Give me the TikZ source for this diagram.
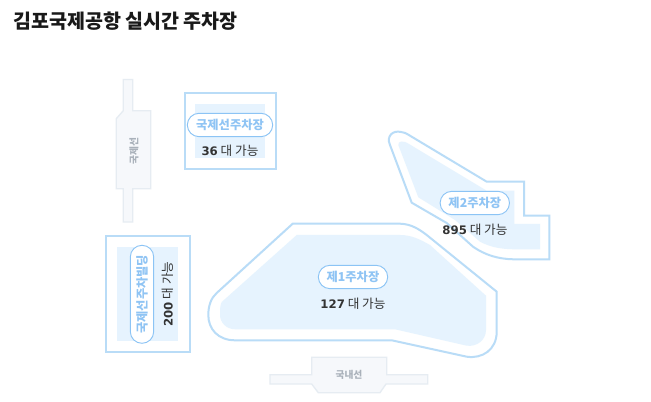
\documentclass[tikz,border=0pt]{standalone}
\usepackage{fontspec}
\setmainfont{Noto Sans CJK KR}
\newfontfamily\numfont{DejaVu Sans}[BoldFont={DejaVu Sans Bold}]
\definecolor{zoneline}{HTML}{B9DCF7}
\definecolor{zonefill}{HTML}{E6F3FE}
\definecolor{pillline}{HTML}{8CC4F5}
\definecolor{pilltext}{HTML}{8FC4F4}
\definecolor{termfill}{HTML}{F6F8FB}
\definecolor{termline}{HTML}{E6ECF2}
\definecolor{termtext}{HTML}{A9B1BA}
\definecolor{inktext}{HTML}{333333}
\newcommand{\countlabel}[1]{{\numfont\bfseries\fontsize{8.8pt}{10pt}\selectfont #1}~대~가능}
\tikzset{
  zoneouter/.style={draw=zoneline,line width=1.5pt,fill=white,line join=miter},
  zoneinner/.style={fill=zonefill},
  terminal/.style={draw=termline,line width=1pt,fill=termfill},
  termlabel/.style={text=termtext,font=\fontsize{7.3pt}{9pt}\selectfont\bfseries,inner sep=0pt},
  pill/.style={draw=pillline,line width=.7pt,fill=white,rounded corners=8.7pt,inner sep=0pt,
    text=pilltext,font=\fontsize{9.2pt}{11pt}\selectfont\bfseries,minimum height=17.5pt},
  countnode/.style={text=inktext,font=\fontsize{9.5pt}{11pt}\selectfont,inner sep=0pt},
}
\begin{document}
\begin{tikzpicture}[x=0.75pt,y=-0.75pt]
\useasboundingbox (0,0) rectangle (651,402);
\fill[white] (0,0) rectangle (651,402);
\node[anchor=west,inner sep=0pt,text=black!90,font=\fontsize{14.65pt}{16pt}\selectfont\bfseries] (title) at (13,21) {김포국제공항 실시간 주차장};
% international terminal
\draw[terminal] (123.3,79.5) -- (132.7,79.5) -- (132.7,110.7) -- (150.7,110.7) -- (150.7,188.7) -- (132.7,188.7) -- (132.7,222) -- (123.3,222) -- (123.3,188.7) -- (116.3,188.7) -- (116.3,118.7) -- (123.3,110.7) -- cycle;
\node[termlabel,rotate=90] (intl) at (134,151) {국제선};
% domestic terminal
\draw[terminal] (311.7,357.3) -- (386.7,357.3) -- (386.7,374.7) -- (427.7,374.7) -- (427.7,384) -- (386,384) -- (380,392.7) -- (318.3,392.7) -- (311.7,384) -- (270,384) -- (270,374.7) -- (311.7,374.7) -- cycle;
\node[termlabel] (dom) at (349,375) {국내선};
% international lot
\draw[zoneouter] (184.5,93) rectangle (276,169);
\fill[zoneinner] (195.3,104) rectangle (264.7,157.7);
\node[pill,minimum width=64pt] (p3) at (230,125) {국제선주차장};
\node[countnode] (c3) at (230,151) {\countlabel{36}};
% building
\draw[zoneouter] (105.5,236) rectangle (189.5,352.5);
\fill[zoneinner] (117,247) rectangle (178,340.7);
\node[pill,rotate=90,minimum width=73.5pt] (p4) at (142,294.3) {국제선주차빌딩};
\node[countnode,rotate=90] (c4) at (168,294) {\countlabel{200}};
% lot 1
\draw[zoneouter] (292.7,223.7) -- (400,223.7) .. controls (412,224) and (420,230) .. (426.7,235) -- (496.7,291.7) -- (496.7,331.7) .. controls (496.7,350) and (482,359) .. (466.7,356.7) -- (391.7,340.3) -- (235,340.3) .. controls (218,340.3) and (208.3,329) .. (208.3,315) .. controls (208.3,306) and (211,298) .. (216.7,293) -- cycle;
\fill[zoneinner] (296.7,235) -- (400,235) .. controls (412,235) and (421,240) .. (430,245) -- (486,295.7) -- (486,330) .. controls (486,340) and (477,347) .. (466.7,345.7) -- (395,329.3) -- (235,329.3) .. controls (226,329.3) and (220,322) .. (220,315) .. controls (220,310) and (220,305) .. (221.7,302) -- cycle;
\node[pill,minimum width=52pt] (p1) at (353,277) {제1주차장};
\node[countnode] (c1) at (353,303.3) {\countlabel{127}};
% lot 2
\draw[zoneouter] (390,145) .. controls (386,136) and (393,130) .. (401,132) .. controls (404,132.5) and (406,133) .. (408,134.5) -- (486.7,181.7) -- (524,181.7) -- (524,215.7) -- (549.3,215.7) -- (549.3,259.3) -- (513.3,259.3) .. controls (498,259) and (485,255) .. (473,246.7) -- (446.7,223) -- (411.7,202.7) -- cycle;
\fill[zoneinner] (398.3,145) .. controls (398,141) and (403,140) .. (409,144) -- (486.7,190.7) -- (514.3,190.7) -- (514.3,224) -- (540,224) -- (540,249.3) -- (513.3,249.3) .. controls (500,249) and (490,247) .. (480,241.7) -- (455,220) -- (418.3,197.3) -- cycle;
\node[pill,minimum width=52pt] (p2) at (474.8,203) {제2주차장};
\node[countnode] (c2) at (475,229.3) {\countlabel{895}};
\end{tikzpicture}
\end{document}
